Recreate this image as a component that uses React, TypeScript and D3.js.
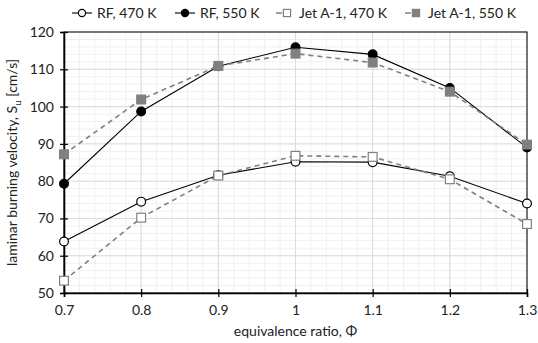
import { useRef, useEffect } from "react";
import * as d3 from "d3";

const phi = [0.7, 0.8, 0.9, 1.0, 1.1, 1.2, 1.3];
const rf470 = [63.8, 74.5, 81.6, 85.2, 85.1, 81.3, 74.0];
const rf550 = [79.3, 98.7, 110.8, 115.9, 114.0, 105.0, 89.0];
const jet470 = [53.3, 70.2, 81.5, 86.8, 86.5, 80.5, 68.5];
const jet550 = [87.2, 101.9, 110.9, 114.2, 111.8, 104.0, 89.8];
const seriesNames = ["RF, 470 K", "RF, 550 K", "Jet A-1, 470 K", "Jet A-1, 550 K"];
const xTicks = [0.7, 0.8, 0.9, 1.0, 1.1, 1.2, 1.3];
const yTicks = [50, 60, 70, 80, 90, 100, 110, 120];

const GRAY = "#808080";
const FONT = "Lato, 'Open Sans', sans-serif";

export default function App() {
  const svgRef = useRef<SVGSVGElement>(null);

  useEffect(() => {
    if (!svgRef.current) return;
    const svg = d3.select(svgRef.current);
    svg.selectAll("*").remove();

    const W = 538, H = 343;
    const margin = { top: 32, right: 11, bottom: 50, left: 64 };
    const width = W - margin.left - margin.right;
    const height = H - margin.top - margin.bottom;

    const x = d3.scaleLinear().domain([0.7, 1.3]).range([0, width]);
    const y = d3.scaleLinear().domain([50, 120]).range([height, 0]);

    const g = svg.append("g").attr("transform", `translate(${margin.left},${margin.top})`);

    // minor grid
    const xMinor = d3.range(0.7, 1.3001, 0.02);
    const yMinor = d3.range(50, 120.001, 2);
    g.append("g").selectAll("line").data(xMinor).join("line")
      .attr("x1", (d) => x(d)).attr("x2", (d) => x(d))
      .attr("y1", 0).attr("y2", height)
      .attr("stroke", "#f0f0f0");
    g.append("g").selectAll("line").data(yMinor).join("line")
      .attr("x1", 0).attr("x2", width)
      .attr("y1", (d) => y(d)).attr("y2", (d) => y(d))
      .attr("stroke", "#f0f0f0");
    // major grid
    g.append("g").selectAll("line").data(xTicks).join("line")
      .attr("x1", (d) => x(d)).attr("x2", (d) => x(d))
      .attr("y1", 0).attr("y2", height)
      .attr("stroke", "#dcdcdc");
    g.append("g").selectAll("line").data(yTicks).join("line")
      .attr("x1", 0).attr("x2", width)
      .attr("y1", (d) => y(d)).attr("y2", (d) => y(d))
      .attr("stroke", "#dcdcdc");

    // border
    g.append("rect").attr("x", 0).attr("y", 0).attr("width", width).attr("height", height)
      .attr("fill", "none").attr("stroke", "#000").attr("stroke-width", 1);

    // axes
    const xAxis = g.append("g").attr("transform", `translate(0,${height})`)
      .call(d3.axisBottom(x).tickValues(xTicks).tickSize(4).tickPadding(8)
        .tickFormat((d) => d3.format("")(+(+d).toFixed(1))));
    const yAxis = g.append("g")
      .call(d3.axisLeft(y).tickValues(yTicks).tickSize(4).tickPadding(6));
    [xAxis, yAxis].forEach((a) => {
      a.select(".domain").attr("stroke", "#000").attr("stroke-width", 1.6);
      a.selectAll(".tick line").attr("stroke", "#000").attr("stroke-width", 1.2);
      a.selectAll("text").attr("fill", "#222").style("font-size", "14px").style("font-family", FONT);
    });
    xAxis.selectAll(".tick line").attr("y1", -4);
    yAxis.selectAll(".tick line").attr("x1", 4);

    const series = [
      { name: seriesNames[0], values: rf470, color: "#000", dash: null, marker: "circle", filled: false },
      { name: seriesNames[1], values: rf550, color: "#000", dash: null, marker: "circle", filled: true },
      { name: seriesNames[2], values: jet470, color: GRAY, dash: "5,4", marker: "square", filled: false },
      { name: seriesNames[3], values: jet550, color: GRAY, dash: "5,4", marker: "square", filled: true },
    ];

    const line = d3.line<number>().x((_, i) => x(phi[i])).y((d) => y(d));

    const drawMarker = (sel: d3.Selection<SVGGElement, unknown, null, undefined>, s: typeof series[number], cx: number, cy: number, r = 4.4) => {
      if (s.marker === "circle") {
        sel.append("circle").attr("cx", cx).attr("cy", cy).attr("r", r)
          .attr("fill", s.filled ? "#000" : "#fff").attr("stroke", "#000").attr("stroke-width", 1.2);
      } else {
        sel.append("rect").attr("x", cx - r).attr("y", cy - r).attr("width", 2 * r).attr("height", 2 * r)
          .attr("fill", s.filled ? GRAY : "#fff").attr("stroke", GRAY).attr("stroke-width", 1.2);
      }
    };

    const plot = g.append("g");
    series.forEach((s) => {
      plot.append("path").datum(s.values).attr("d", line)
        .attr("fill", "none").attr("stroke", s.color).attr("stroke-width", s.dash ? 1.6 : 1.1)
        .attr("stroke-dasharray", s.dash ?? null);
    });
    series.forEach((s) => {
      const mg = plot.append("g");
      s.values.forEach((v, i) => drawMarker(mg, s, x(phi[i]), y(v)));
    });

    // legend
    const legend = svg.append("g").attr("transform", "translate(0,13)");
    const legendX = [72, 175, 276, 405];
    series.forEach((s, i) => {
      const lg = legend.append("g").attr("transform", `translate(${legendX[i]},0)`);
      const len = s.dash ? 16 : 20;
      const mx = s.dash ? 11 : 10;
      lg.append("line").attr("x1", 0).attr("x2", len).attr("y1", 0).attr("y2", 0)
        .attr("stroke", s.color).attr("stroke-width", s.dash ? 1.6 : 1.1)
        .attr("stroke-dasharray", s.dash ? "6,3" : null);
      drawMarker(lg, s, mx, 0, 3.6);
      lg.append("text").attr("x", s.dash ? 23 : 25).attr("y", 0).attr("dy", "0.35em")
        .attr("fill", "#222").style("font-size", "14px").style("font-family", FONT)
        .text(s.name);
    });

    // axis titles
    svg.append("text")
      .attr("x", margin.left + width / 2).attr("y", H - 7)
      .attr("text-anchor", "middle").attr("fill", "#222")
      .style("font-size", "14px").style("font-family", FONT)
      .text("equivalence ratio, Φ");

    const yt = svg.append("text")
      .attr("transform", `translate(17,${margin.top + height / 2}) rotate(-90)`)
      .attr("text-anchor", "middle").attr("fill", "#222")
      .style("font-size", "14px").style("font-family", FONT);
    yt.append("tspan").text("laminar burning velocity, S");
    yt.append("tspan").attr("dy", 4).style("font-size", "10px").text("u");
    yt.append("tspan").attr("dy", -4).text(" [cm/s]");
  }, []);

  return (
    <svg ref={svgRef} width={538} height={343} viewBox="0 0 538 343"
      style={{ position: "absolute", left: 0, top: 0, background: "#fff" }} />
  );
}
